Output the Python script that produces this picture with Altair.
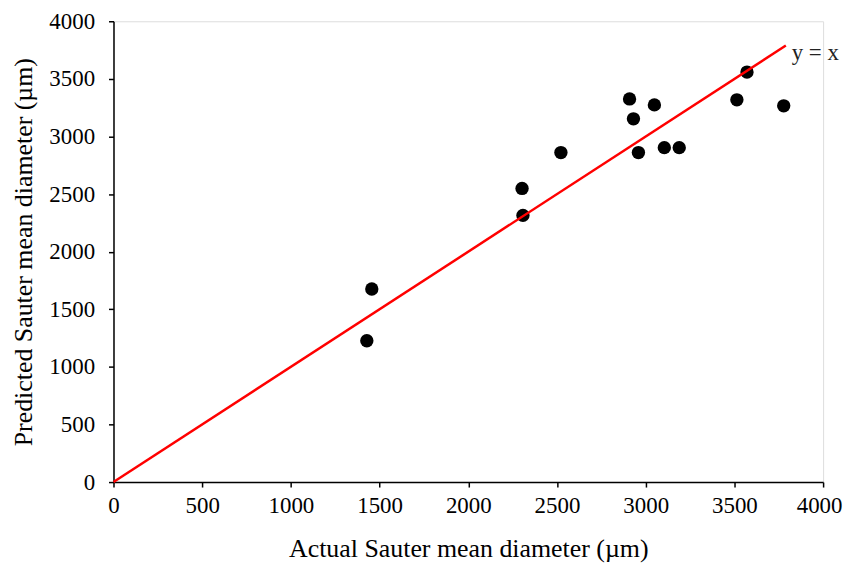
import altair as alt
import pandas as pd

actual = [1428, 1456, 2303, 2308, 2522, 2909, 2931, 2959, 3049, 3105, 3189, 3514, 3571, 3778]
predicted = [1227, 1676, 2549, 2315, 2860, 3326, 3153, 2860, 3274, 2903, 2903, 3318, 3559, 3266]

line_x = [0, 3790]
line_y = [0, 3790]

label_text = ["y = x"]
label_x = [3823]
label_y = [3724]

ticks = [0, 500, 1000, 1500, 2000, 2500, 3000, 3500, 4000]

pts = pd.DataFrame({"actual": actual, "predicted": predicted})
ln = pd.DataFrame({"actual": line_x, "predicted": line_y})
lab = pd.DataFrame({"actual": label_x, "predicted": label_y, "t": label_text})

FONT = "Liberation Serif"

xs = alt.Scale(domain=[0, 4000], nice=False)
ys = alt.Scale(domain=[0, 4000], nice=False)

xax = alt.Axis(title="Actual Sauter mean diameter (µm)", values=ticks, format="d", grid=False,
               domainColor="black", tickColor="black", domainWidth=1.5, tickWidth=1.5,
               tickSize=5, labelFont=FONT, labelFontSize=23, labelColor="black",
               titleFont=FONT, titleFontSize=26, titleFontWeight="normal", titleColor="black",
               labelPadding=8, titlePadding=18, labelFlush=False,
               labelOffset=alt.ExprRef(expr="datum.value == 4000 ? -4 : 0"))
yax = alt.Axis(title="Predicted Sauter mean diameter (µm)", values=ticks, format="d", grid=False,
               domainColor="black", tickColor="black", domainWidth=1.5, tickWidth=1.5,
               tickSize=5, labelFont=FONT, labelFontSize=23, labelColor="black",
               titleFont=FONT, titleFontSize=26, titleFontWeight="normal", titleColor="black",
               labelPadding=14, titlePadding=12, labelFlush=False)

line = alt.Chart(ln).mark_line(color="#ff0000", strokeWidth=2.5, clip=False).encode(
    x=alt.X("actual:Q", scale=xs, axis=xax),
    y=alt.Y("predicted:Q", scale=ys, axis=yax),
)

points = alt.Chart(pts).mark_circle(color="black", opacity=1, size=180).encode(
    x=alt.X("actual:Q", scale=xs),
    y=alt.Y("predicted:Q", scale=ys),
)

text = alt.Chart(lab).mark_text(font=FONT, fontSize=23, align="left", baseline="middle", color="#222222").encode(
    x=alt.X("actual:Q", scale=xs),
    y=alt.Y("predicted:Q", scale=ys),
    text="t:N",
)

chart = alt.layer(points, line, text).properties(
    width=713, height=463,
    autosize=alt.AutoSizeParams(type="none"),
    padding={"left": 106, "top": 12, "right": 21, "bottom": 82},
).configure_view(stroke=None).configure(background="white")

chart.save("out.html", embed_options={"renderer": "svg", "actions": False})
